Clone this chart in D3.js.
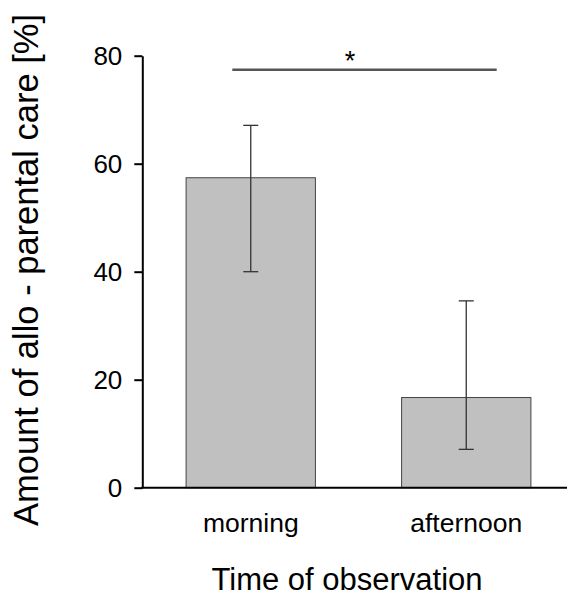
<!DOCTYPE html>
<html>
<head>
<meta charset="utf-8">
<script src="https://cdn.jsdelivr.net/npm/d3@7"></script>
<style>
  body { margin: 0; background: #fff; }
  svg { display: block; font-family: Arial, "Liberation Sans", sans-serif; }
</style>
</head>
<body>
<div id="chart"></div>
<script>
// chart values
const categories = ["morning", "afternoon"];
const means = [57.4, 16.7];
const errUpper = [67.1, 34.6];
const errLower = [40.0, 7.1];
const yTicks = [0, 20, 40, 60, 80];
const sigLevel = 77.4;
const sigMark = "*";

const width = 568,
    height = 597;

const svg = d3.select("#chart").append("svg")
    .attr("width", width)
    .attr("height", height);

const y = d3.scaleLinear()
    .domain([0, 80])
    .range([487.7, 55.7]);

const x = d3.scaleBand()
    .domain(categories)
    .range([143, 574])
    .paddingInner(0.4)
    .paddingOuter(0.2);

// bars
svg.append("g")
  .selectAll("rect")
    .data(categories)
  .enter().append("rect")
    .attr("x", d => x(d))
    .attr("y", (d, i) => y(means[i]))
    .attr("width", x.bandwidth())
    .attr("height", (d, i) => y(0) - y(means[i]))
    .attr("fill", "#c0c0c0")
    .attr("stroke", "#444")
    .attr("stroke-width", 1);

// error bars
const errs = svg.append("g")
    .attr("stroke", "#333")
    .attr("stroke-width", 1.3);
categories.forEach(function(c, i) {
  let cx = x(c) + x.bandwidth() / 2;
  errs.append("line")
      .attr("x1", cx).attr("x2", cx)
      .attr("y1", y(errUpper[i])).attr("y2", y(errLower[i]));
  [errUpper[i], errLower[i]].forEach(function(v) {
    errs.append("line")
        .attr("x1", cx - 7.5).attr("x2", cx + 7.5)
        .attr("y1", y(v)).attr("y2", y(v));
  });
});

// y axis
const yAxis = svg.append("g")
    .attr("transform", "translate(142.3,0)")
    .call(d3.axisLeft(y).tickValues(yTicks).tickSize(8).tickPadding(12).tickSizeOuter(0));
yAxis.select(".domain").attr("stroke", "#000").attr("stroke-width", 2);
yAxis.selectAll(".tick line").attr("stroke", "#000").attr("stroke-width", 2);
yAxis.selectAll(".tick text")
    .attr("font-size", 26)
    .attr("font-family", "Arial, 'Liberation Sans', sans-serif")
    .attr("fill", "#000");

// x axis line
svg.append("line")
    .attr("x1", 141.3).attr("x2", 567)
    .attr("y1", y(0)).attr("y2", y(0))
    .attr("stroke", "#000")
    .attr("stroke-width", 2);

// category labels
svg.append("g")
  .selectAll("text")
    .data(categories)
  .enter().append("text")
    .attr("x", d => x(d) + x.bandwidth() / 2)
    .attr("y", 532)
    .attr("text-anchor", "middle")
    .attr("font-size", 26.5)
    .text(d => d);

// significance bar
svg.append("line")
    .attr("x1", 232.3).attr("x2", 496.7)
    .attr("y1", y(sigLevel)).attr("y2", y(sigLevel))
    .attr("stroke", "#555")
    .attr("stroke-width", 2.5);
svg.append("text")
    .attr("x", 350)
    .attr("y", 70)
    .attr("text-anchor", "middle")
    .attr("font-size", 27)
    .text(sigMark);

// axis titles
svg.append("text")
    .attr("x", 347)
    .attr("y", 590)
    .attr("text-anchor", "middle")
    .attr("font-size", 31)
    .text("Time of observation");

svg.append("text")
    .attr("transform", "translate(38,270)rotate(-90)")
    .attr("text-anchor", "middle")
    .attr("font-size", 34.5)
    .text("Amount of allo - parental care [%]");
</script>
</body>
</html>
